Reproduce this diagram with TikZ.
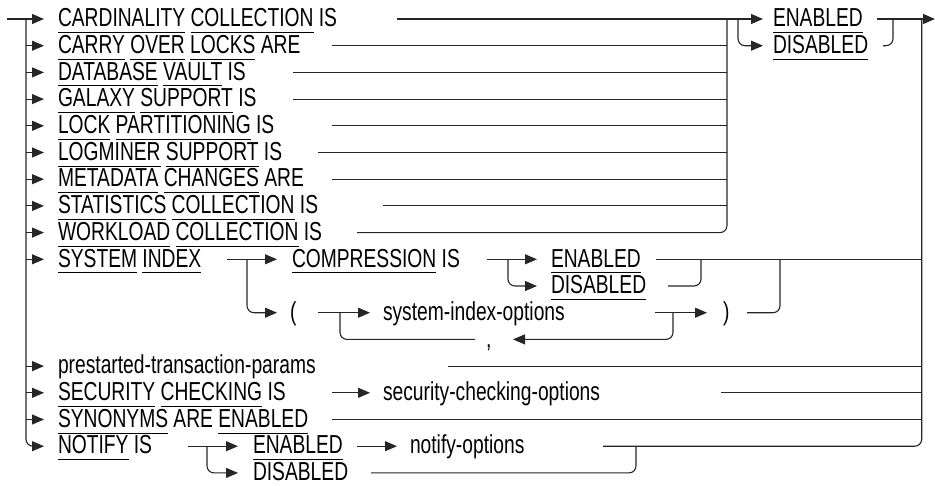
\documentclass[tikz,border=0pt]{standalone}
\usepackage{fontspec}
\setmainfont{Liberation Sans}[FakeStretch=0.74]
\usetikzlibrary{arrows.meta}
\newsavebox\kwbox
\newcommand\kwu[1]{\sbox\kwbox{#1}\rlap{\rule[-6.3pt]{\wd\kwbox}{1pt}}\usebox\kwbox}
\tikzset{
  ln/.style={line width=1.1pt, draw=black!85, rounded corners=7pt},
  arr/.style={ln, -{Triangle[length=12pt,width=10pt]}},
  lbl/.style={anchor=west, inner sep=0pt, outer sep=0pt, text height=19pt, text depth=3.6pt},
}
\begin{document}
\begin{tikzpicture}[x=1pt,y=-1pt,font=\fontsize{26}{28}\selectfont]
\useasboundingbox (0,0) rectangle (935,485);
% left column texts
\node[lbl] (t1) at (58,19.0) {\kwu{CARDINALITY} \kwu{COLLECTION} IS};
\node[lbl] (t2) at (58,45.7) {\kwu{CARRY} \kwu{OVER} \kwu{LOCKS} ARE};
\node[lbl] (t3) at (58,72.4) {\kwu{DATABASE} \kwu{VAULT} IS};
\node[lbl] (t4) at (58,99.1) {\kwu{GALAXY} \kwu{SUPPORT} IS};
\node[lbl] (t5) at (58,125.8) {\kwu{LOCK} \kwu{PARTITIONING} IS};
\node[lbl] (t6) at (58,152.5) {\kwu{LOGMINER} \kwu{SUPPORT} IS};
\node[lbl] (t7) at (58,179.2) {\kwu{METADATA} \kwu{CHANGES} ARE};
\node[lbl] (t8) at (58,205.9) {\kwu{STATISTICS} \kwu{COLLECTION} IS};
\node[lbl] (t9) at (58,232.6) {\kwu{WORKLOAD} \kwu{COLLECTION} IS};
\node[lbl] (t10) at (58,259.3) {\kwu{SYSTEM} \kwu{INDEX}};
\node[lbl] (t14) at (58,366.1) {prestarted-transaction-params};
\node[lbl] (t15) at (58,392.8) {\kwu{SECURITY} \kwu{CHECKING} IS};
\node[lbl] (t16) at (58,419.5) {\kwu{SYNONYMS} ARE \kwu{ENABLED}};
\node[lbl] (t17) at (58,446.2) {\kwu{NOTIFY} IS};
% other texts
\node[lbl] (en1) at (773,19.0) {\kwu{ENABLED}};
\node[lbl] (dis1) at (773,45.7) {\kwu{DISABLED}};
\node[lbl] (cmp) at (292,259.3) {\kwu{COMPRESSION} IS};
\node[lbl] (en2) at (551,259.3) {\kwu{ENABLED}};
\node[lbl] (dis2) at (551,286.0) {\kwu{DISABLED}};
\node[lbl] (lp) at (290,312.7) {(};
\node[lbl] (sio) at (383,312.7) {system-index-options};
\node[lbl] (rp) at (723,312.7) {)};
\node[lbl] (cm) at (486,339.4) {,};
\node[lbl] (sco) at (383,392.8) {security-checking-options};
\node[lbl] (en3) at (253,446.2) {\kwu{ENABLED}};
\node[lbl] (dis3) at (253,472.9) {\kwu{DISABLED}};
\node[lbl] (nop) at (410,446.2) {notify-options};
\coordinate (entry) at (7,19.0);
\coordinate (exit) at (935,19.0);
% left trunk and entry arrows
\draw[arr, shorten >=14pt] (entry) -- (t1.west);
\draw[arr, shorten >=14pt] (26,19.0) |- (t17.west);
\foreach \t in {t2,t3,t4,t5,t6,t7,t8,t9,t10,t14,t15,t16}
  \draw[arr, shorten >=14pt] (26,0 |- \t.west) -- (\t.west);
% group A right side
\draw[ln] (397,19.0) -- (727,19.0);
\draw[ln] (332,45.7) -- (727,45.7);
\draw[ln] (293,72.4) -- (727,72.4);
\draw[ln] (293,99.1) -- (727,99.1);
\draw[ln] (332,125.8) -- (727,125.8);
\draw[ln] (318,152.5) -- (727,152.5);
\draw[ln] (332,179.2) -- (727,179.2);
\draw[ln] (383,205.9) -- (727,205.9);
\draw[ln] (357,232.6) -| (727,19.0);
\draw[arr, shorten >=10pt] (727,19.0) -- (en1.west);
\draw[arr, shorten >=10pt] (738,19.0) |- (dis1.west);
\draw[ln] (883,45.7) -| (893,19.0);
\draw[arr] (877,19.0) -- (exit);
% final trunk
\draw[ln] (603,446.2) -| (921.7,19.0);
% system index
\draw[arr, shorten >=15pt] (227,259.3) -- (cmp.west);
\draw[arr, shorten >=13pt] (247,259.3) |- (lp.west);
\draw[arr, shorten >=14pt] (487,259.3) -- (en2.west);
\draw[arr, shorten >=14pt] (508,259.3) |- (dis2.west);
\draw[ln] (656,259.3) -- (921.7,259.3);
\draw[ln] (668,286.0) -| (701,259.3);
\draw[arr, shorten >=13pt] (318,312.7) -- (sio.west);
\draw[ln] (340,312.7) |- (475,339.4);
\draw[arr] (673,312.7) |- (513,339.4);
\draw[arr, shorten >=16pt] (655,312.7) -- (rp.west);
\draw[ln] (747,312.7) -| (780,259.3);
% lower rows
\draw[ln] (448,366.1) -- (921.7,366.1);
\draw[arr, shorten >=13pt] (332,392.8) -- (sco.west);
\draw[ln] (721,392.8) -- (921.7,392.8);
\draw[ln] (332,419.5) -- (921.7,419.5);
\draw[arr, shorten >=15pt] (188,446.2) -- (en3.west);
\draw[arr, shorten >=15pt] (207,446.2) |- (dis3.west);
\draw[arr, shorten >=13pt] (357,446.2) -- (nop.west);
\draw[ln] (371,472.9) -| (636,446.2);
\end{tikzpicture}
\end{document}
